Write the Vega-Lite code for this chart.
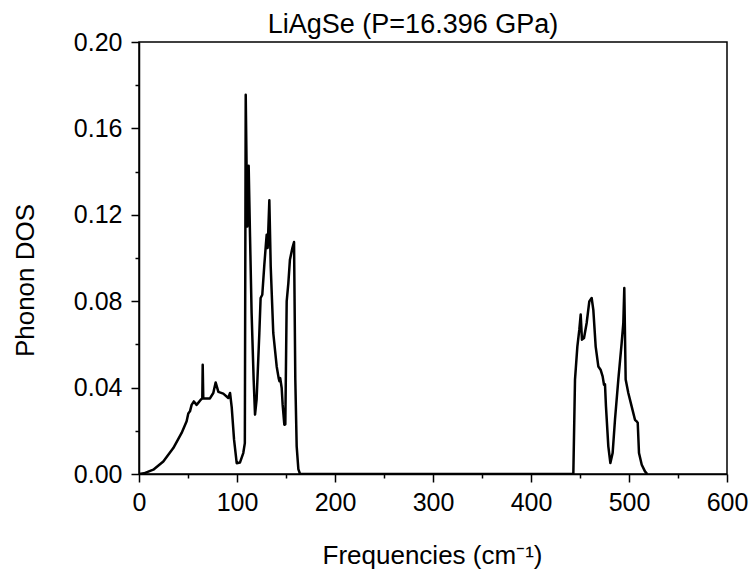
{
  "$schema": "https://vega.github.io/schema/vega-lite/v6.json",
  "width": 588,
  "height": 432,
  "autosize": {"type": "none"},
  "padding": {"left": 139, "top": 42, "right": 24, "bottom": 107},
  "background": "white",
  "config": {
    "font": "Liberation Sans",
    "view": {"stroke": "black", "strokeWidth": 1.5}
  },
  "title": {
    "text": "LiAgSe (P=16.396 GPa)",
    "fontSize": 27,
    "fontWeight": "normal",
    "font": "Liberation Sans",
    "color": "black",
    "anchor": "middle",
    "offset": 7,
    "dx": -20,
    "dy": 16
  },
  "data": {
    "values": [
      {"f": 0, "v": 0},
      {"f": 5, "v": 0.0003},
      {"f": 14.6, "v": 0.002},
      {"f": 24.8, "v": 0.0058},
      {"f": 35, "v": 0.012},
      {"f": 43.5, "v": 0.019},
      {"f": 48.6, "v": 0.0244},
      {"f": 50.3, "v": 0.028},
      {"f": 52, "v": 0.029},
      {"f": 53.7, "v": 0.032},
      {"f": 56, "v": 0.0336},
      {"f": 58.8, "v": 0.032},
      {"f": 63, "v": 0.0344},
      {"f": 64.6, "v": 0.035},
      {"f": 65, "v": 0.0506},
      {"f": 65.6, "v": 0.035},
      {"f": 72.4, "v": 0.035},
      {"f": 75.8, "v": 0.0375},
      {"f": 78.2, "v": 0.0424},
      {"f": 81, "v": 0.038},
      {"f": 86, "v": 0.0372},
      {"f": 91.1, "v": 0.0352},
      {"f": 92.9, "v": 0.0375},
      {"f": 94.6, "v": 0.031},
      {"f": 97, "v": 0.0159},
      {"f": 99.7, "v": 0.005},
      {"f": 103, "v": 0.0053},
      {"f": 106.4, "v": 0.0097},
      {"f": 108, "v": 0.0143},
      {"f": 108.9, "v": 0.1756},
      {"f": 110.5, "v": 0.1146},
      {"f": 111.9, "v": 0.1427},
      {"f": 113.3, "v": 0.11},
      {"f": 114.9, "v": 0.0745},
      {"f": 117, "v": 0.0437},
      {"f": 118.4, "v": 0.0275},
      {"f": 120, "v": 0.0344},
      {"f": 122.8, "v": 0.0653},
      {"f": 124.1, "v": 0.0815},
      {"f": 125.8, "v": 0.083},
      {"f": 127.9, "v": 0.0969},
      {"f": 129.6, "v": 0.107},
      {"f": 130.3, "v": 0.1108},
      {"f": 131.3, "v": 0.1046},
      {"f": 133, "v": 0.1267},
      {"f": 134.4, "v": 0.0961},
      {"f": 137, "v": 0.0653},
      {"f": 140.5, "v": 0.0498},
      {"f": 142.5, "v": 0.0444},
      {"f": 143.3, "v": 0.043},
      {"f": 144.1, "v": 0.0444},
      {"f": 145.6, "v": 0.0398},
      {"f": 146.6, "v": 0.032},
      {"f": 148.3, "v": 0.0228},
      {"f": 149.3, "v": 0.023},
      {"f": 150.7, "v": 0.0799},
      {"f": 152.4, "v": 0.0884},
      {"f": 154, "v": 0.0992},
      {"f": 156.5, "v": 0.1046},
      {"f": 158.2, "v": 0.1074},
      {"f": 159.5, "v": 0.0437},
      {"f": 160.9, "v": 0.0128},
      {"f": 162.6, "v": 0.0023},
      {"f": 164.3, "v": 0},
      {"f": 300, "v": 0},
      {"f": 443.2, "v": 0},
      {"f": 444.9, "v": 0.0437},
      {"f": 447.3, "v": 0.059},
      {"f": 449.3, "v": 0.0668},
      {"f": 450.7, "v": 0.0738},
      {"f": 452, "v": 0.0622},
      {"f": 454.1, "v": 0.063},
      {"f": 456.8, "v": 0.0699},
      {"f": 459.5, "v": 0.0799},
      {"f": 461.9, "v": 0.0815},
      {"f": 463.6, "v": 0.076},
      {"f": 466, "v": 0.059},
      {"f": 468.7, "v": 0.0498},
      {"f": 471, "v": 0.0483},
      {"f": 473.1, "v": 0.0452},
      {"f": 474.5, "v": 0.0413},
      {"f": 475.5, "v": 0.0415},
      {"f": 476.5, "v": 0.0313},
      {"f": 478.9, "v": 0.0128},
      {"f": 481, "v": 0.0051},
      {"f": 483.3, "v": 0.0097},
      {"f": 485.7, "v": 0.0251},
      {"f": 489.1, "v": 0.0437},
      {"f": 492.5, "v": 0.0606},
      {"f": 494.2, "v": 0.0699},
      {"f": 495.2, "v": 0.0861},
      {"f": 496.6, "v": 0.0437},
      {"f": 499.3, "v": 0.0375},
      {"f": 502.7, "v": 0.0313},
      {"f": 506.1, "v": 0.0251},
      {"f": 507.5, "v": 0.0245},
      {"f": 508.9, "v": 0.0237},
      {"f": 510.2, "v": 0.0097},
      {"f": 513, "v": 0.0043},
      {"f": 516.3, "v": 0.0012},
      {"f": 518.6, "v": 0}
    ]
  },
  "mark": {"type": "line", "color": "black", "strokeWidth": 2.5, "clip": true, "strokeJoin": "round"},
  "encoding": {
    "x": {
      "field": "f",
      "type": "quantitative",
      "scale": {"domain": [0, 600], "nice": false, "zero": false},
      "axis": {
        "values": [0, 50, 100, 150, 200, 250, 300, 350, 400, 450, 500, 550, 600],
        "labelExpr": "datum.value % 100 === 0 ? datum.label : ''",
        "format": "d",
        "grid": false,
        "domainColor": "black",
        "domainWidth": 1.5,
        "tickColor": "black",
        "tickWidth": 1.5,
        "tickSize": {"condition": {"test": "datum.value % 100 === 0", "value": 8}, "value": 4},
        "labelFontSize": 25,
        "labelColor": "black",
        "labelPadding": 8,
        "labelFlush": false,
        "labelOverlap": false,
        "title": "Frequencies (cm⁻¹)",
        "titleFontSize": 26,
        "titleFontWeight": "normal",
        "titleColor": "black",
        "titleBaseline": "alphabetic",
        "titleY": 89,
        "titleX": 293
      }
    },
    "y": {
      "field": "v",
      "type": "quantitative",
      "scale": {"domain": [0, 0.2], "nice": false},
      "axis": {
        "values": [0, 0.02, 0.04, 0.06, 0.08, 0.1, 0.12, 0.14, 0.16, 0.18, 0.2],
        "format": ".2f",
        "labelExpr": "round(datum.value * 100) % 4 === 0 ? datum.label : ''",
        "grid": false,
        "domainColor": "black",
        "domainWidth": 1.5,
        "tickColor": "black",
        "tickWidth": 1.5,
        "tickSize": {"condition": {"test": "round(datum.value * 100) % 4 === 0", "value": 8}, "value": 4},
        "labelFontSize": 25,
        "labelColor": "black",
        "labelPadding": 9,
        "labelFlush": false,
        "labelOverlap": false,
        "title": "Phonon DOS",
        "titleFontSize": 26,
        "titleFontWeight": "normal",
        "titleColor": "black",
        "titleBaseline": "alphabetic",
        "titleAngle": -90,
        "titleX": -106,
        "titleY": 238
      }
    }
  }
}
